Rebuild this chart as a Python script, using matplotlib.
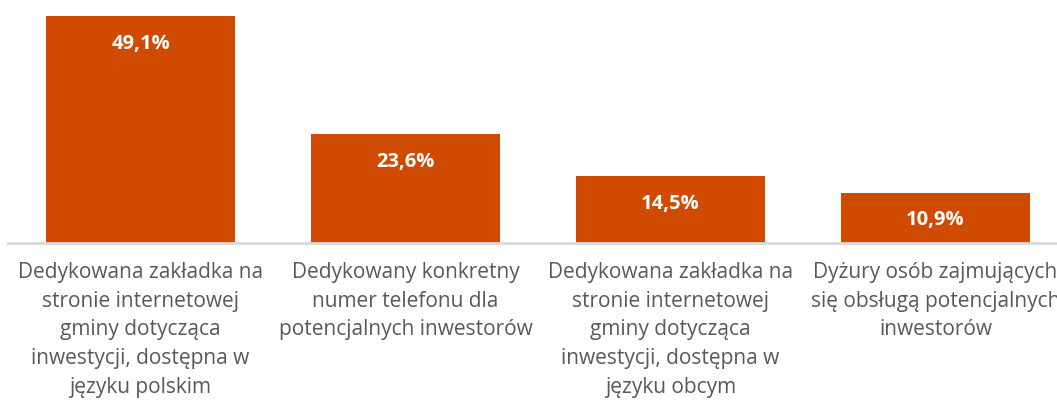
import matplotlib
matplotlib.use('Agg')
import matplotlib.pyplot as plt

kategorie = [
    'Dedykowana zakładka na\nstronie internetowej\ngminy dotycząca\ninwestycji, dostępna w\njęzyku polskim',
    'Dedykowany konkretny\nnumer telefonu dla\npotencjalnych inwestorów',
    'Dedykowana zakładka na\nstronie internetowej\ngminy dotycząca\ninwestycji, dostępna w\njęzyku obcym',
    'Dyżury osób zajmujących\nsię obsługą potencjalnych\ninwestorów',
]
wartosci = [49.1, 23.6, 14.5, 10.9]

kolor = '#D04A02'
szary = '#595959'

plt.rcParams['font.family'] = ['Open Sans', 'DejaVu Sans']

fig = plt.figure(figsize=(10.57, 4.03), dpi=100)
ax = fig.add_axes([8 / 1057, 160 / 403, 1049 / 1057, 243 / 403])

x = list(range(len(wartosci)))
ax.bar(x, wartosci, width=0.713, color=kolor, zorder=2)

ax.set_xlim(-0.5, -0.5 + 1049 / 265)
ax.set_ylim(0, 49.1 * 243 / 227)

for i, v in enumerate(wartosci):
    ax.annotate(f"{v:.1f}%".replace('.', ','), (i, v), textcoords='offset points',
                xytext=(0, -20), ha='center', va='center', color='white',
                fontsize=14.5, fontweight='bold')

ax.set_xticks(x)
ax.set_xticklabels(kategorie, fontsize=15, color=szary, linespacing=1.47)
ax.tick_params(axis='x', length=0, pad=14)
ax.set_yticks([])

for s in ['top', 'right', 'left']:
    ax.spines[s].set_visible(False)
ax.spines['bottom'].set_color('#D9D9D9')
ax.spines['bottom'].set_linewidth(2)

fig.savefig('out.png', dpi=100)
plt.close()
